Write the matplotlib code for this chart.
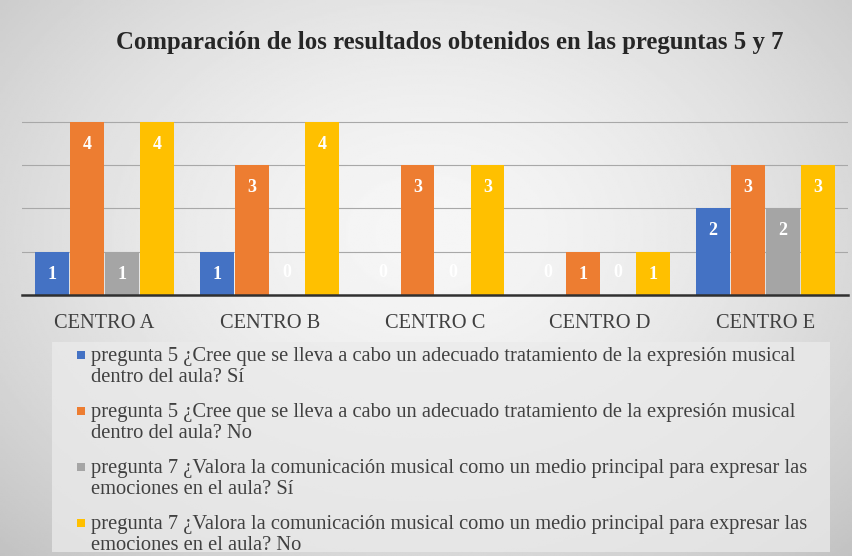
import numpy as np
import matplotlib.pyplot as plt
from matplotlib.patches import Rectangle

centros = ["CENTRO A", "CENTRO B", "CENTRO C", "CENTRO D", "CENTRO E"]
p5_si = [1, 1, 0, 0, 2]
p5_no = [4, 3, 3, 1, 3]
p7_si = [1, 0, 0, 0, 2]
p7_no = [4, 4, 3, 1, 3]
series_labels = [
    "pregunta 5 ¿Cree que se lleva a cabo un adecuado tratamiento de la expresión musical\ndentro del aula? Sí",
    "pregunta 5 ¿Cree que se lleva a cabo un adecuado tratamiento de la expresión musical\ndentro del aula? No",
    "pregunta 7 ¿Valora la comunicación musical como un medio principal para expresar las\nemociones en el aula? Sí",
    "pregunta 7 ¿Valora la comunicación musical como un medio principal para expresar las\nemociones en el aula? No",
]
colors = ["#4472C4", "#ED7D31", "#A5A5A5", "#FFC000"]
title = "Comparación de los resultados obtenidos en las preguntas 5 y 7"

plt.rcParams["font.family"] = ["Liberation Serif", "DejaVu Serif"]

W, H = 853, 556
fig = plt.figure(figsize=(W / 100, H / 100), dpi=100)

# radial grey background
bg = fig.add_axes([0, 0, 1, 1], zorder=-10)
yy, xx = np.mgrid[0:1:300j, 0:1:460j]
r = np.sqrt(((xx - 0.5) / 0.75) ** 2 + ((yy - 0.42) / 0.85) ** 2)
shade = np.clip(0.965 - 0.22 * r ** 1.6, 0, 1)
bg.imshow(shade, cmap="gray", vmin=0, vmax=1, aspect="auto", extent=[0, 1, 0, 1], origin="upper")
bg.axis("off")

ax = fig.add_axes([22 / W, 1 - 295 / H, 826 / W, 195 / H])
ax.set_facecolor("none")
ax.set_axisbelow(True)

series = [p5_si, p5_no, p7_si, p7_no]
x = np.arange(len(centros))
bw = 0.205
step = 0.212
for i, vals in enumerate(series):
    pos = x + (i - 1.5) * step
    ax.bar(pos, vals, width=bw, color=colors[i], zorder=3)
    for px, v in zip(pos, vals):
        ypos = v - 0.52 if v > 0 else 0.52
        ax.text(px, ypos, str(v), ha="center", va="center", color="white",
                fontsize=13, fontweight="bold", zorder=4)

ax.set_xlim(-0.5, len(centros) - 0.5)
ax.set_ylim(0, 4.5)
ax.set_yticks([1, 2, 3, 4])
ax.yaxis.grid(True, color="#a8a8a8", linewidth=0.8)
ax.tick_params(axis="y", left=False, labelleft=False)
ax.tick_params(axis="x", bottom=False, pad=10, labelsize=14.7, labelcolor="#404040")
ax.set_xticks(x)
ax.set_xticklabels(centros)
for s in ["top", "right", "left"]:
    ax.spines[s].set_visible(False)
ax.spines["bottom"].set_color("#303030")
ax.spines["bottom"].set_linewidth(1.8)
ax.spines["bottom"].set_zorder(5)

fig.text(450 / W, 1 - 43 / H, title, ha="center", va="center",
         fontsize=17.8, fontweight="bold", color="#262626")

# legend box
fig.patches.append(Rectangle((52 / W, 1 - 552 / H), 778 / W, 210 / H,
                             transform=fig.transFigure, facecolor="#ebebeb",
                             edgecolor="none", alpha=0.75, zorder=0))
entry_base = [361, 417, 473, 529]
for lab, c, eb in zip(series_labels, colors, entry_base):
    fig.patches.append(Rectangle((77 / W, 1 - (eb - 2) / H), 8 / W, 8 / H,
                                 transform=fig.transFigure, facecolor=c,
                                 edgecolor="none", zorder=2))
    for k, line in enumerate(lab.split("\n")):
        fig.text(91 / W, 1 - (eb + 21.5 * k) / H, line, ha="left", va="baseline",
                 fontsize=14.8, color="#404040")

fig.savefig("out.png", dpi=100)
